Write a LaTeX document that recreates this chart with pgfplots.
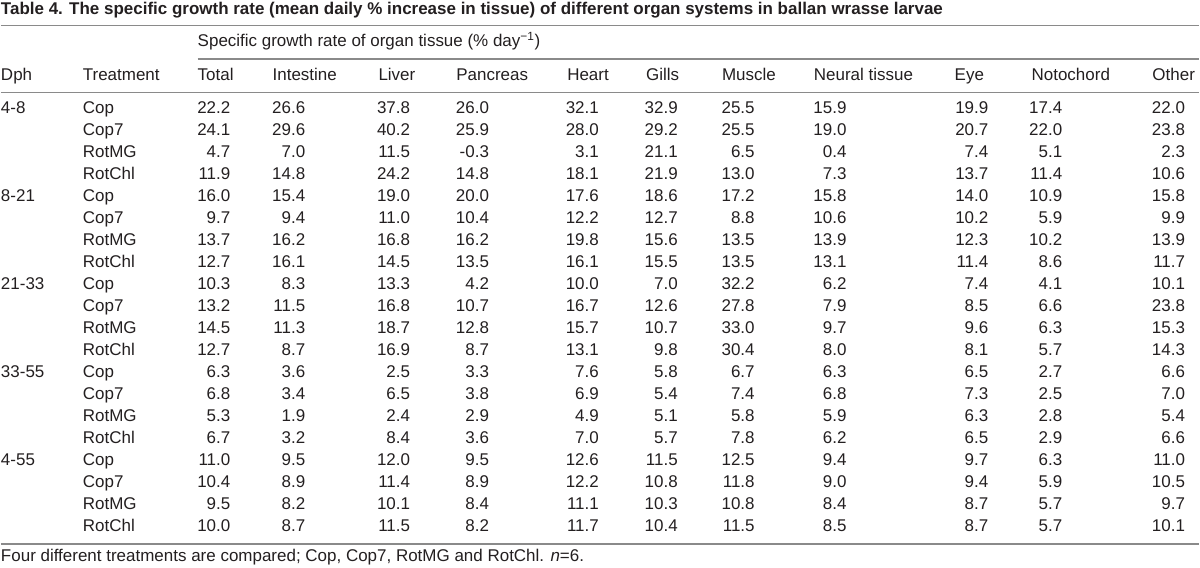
\documentclass[border=0pt]{standalone}
\usepackage{pgfplots}
\usepackage{pgfplotstable}
\pgfplotsset{compat=1.18}
\usepackage{fontspec}
\setmainfont{Liberation Sans}
\definecolor{txt}{HTML}{231F20}
\definecolor{rule}{HTML}{8A8A8A}
\newcommand{\fs}{\fontsize{17}{20}\selectfont}

\pgfplotstableread{
row trt Total Intestine Liver Pancreas Heart Gills Muscle Neural Eye Notochord Other
0 Cop 22.2 26.6 37.8 26.0 32.1 32.9 25.5 15.9 19.9 17.4 22.0
1 Cop7 24.1 29.6 40.2 25.9 28.0 29.2 25.5 19.0 20.7 22.0 23.8
2 RotMG 4.7 7.0 11.5 -0.3 3.1 21.1 6.5 0.4 7.4 5.1 2.3
3 RotChl 11.9 14.8 24.2 14.8 18.1 21.9 13.0 7.3 13.7 11.4 10.6
4 Cop 16.0 15.4 19.0 20.0 17.6 18.6 17.2 15.8 14.0 10.9 15.8
5 Cop7 9.7 9.4 11.0 10.4 12.2 12.7 8.8 10.6 10.2 5.9 9.9
6 RotMG 13.7 16.2 16.8 16.2 19.8 15.6 13.5 13.9 12.3 10.2 13.9
7 RotChl 12.7 16.1 14.5 13.5 16.1 15.5 13.5 13.1 11.4 8.6 11.7
8 Cop 10.3 8.3 13.3 4.2 10.0 7.0 32.2 6.2 7.4 4.1 10.1
9 Cop7 13.2 11.5 16.8 10.7 16.7 12.6 27.8 7.9 8.5 6.6 23.8
10 RotMG 14.5 11.3 18.7 12.8 15.7 10.7 33.0 9.7 9.6 6.3 15.3
11 RotChl 12.7 8.7 16.9 8.7 13.1 9.8 30.4 8.0 8.1 5.7 14.3
12 Cop 6.3 3.6 2.5 3.3 7.6 5.8 6.7 6.3 6.5 2.7 6.6
13 Cop7 6.8 3.4 6.5 3.8 6.9 5.4 7.4 6.8 7.3 2.5 7.0
14 RotMG 5.3 1.9 2.4 2.9 4.9 5.1 5.8 5.9 6.3 2.8 5.4
15 RotChl 6.7 3.2 8.4 3.6 7.0 5.7 7.8 6.2 6.5 2.9 6.6
16 Cop 11.0 9.5 12.0 9.5 12.6 11.5 12.5 9.4 9.7 6.3 11.0
17 Cop7 10.4 8.9 11.4 8.9 12.2 10.8 11.8 9.0 9.4 5.9 10.5
18 RotMG 9.5 8.2 10.1 8.4 11.1 10.3 10.8 8.4 8.7 5.7 9.7
19 RotChl 10.0 8.7 11.5 8.2 11.7 10.4 11.5 8.5 8.7 5.7 10.1
}\sgr

\pgfplotstableread{
row dph
0 4-8
4 8-21
8 21-33
12 33-55
16 4-55
}\dphtab

\pgfplotsset{
  cellR/.style={draw=none, mark=none, nodes near coords, point meta=explicit symbolic,
    nodes near coords style={anchor=base east, inner sep=0pt, font=\fs, text=txt}},
  cellL/.style={draw=none, mark=none, nodes near coords, point meta=explicit symbolic,
    nodes near coords style={anchor=base west, inner sep=0pt, font=\fs, text=txt}},
}
\tikzset{hd/.style={anchor=base west, inner sep=0pt, text=txt, font=\fs}}

\begin{document}
\begin{tikzpicture}
\begin{axis}[
  width=1200pt, height=568pt, scale only axis,
  xmin=0, xmax=1200, ymin=0, ymax=568, y dir=reverse,
  hide axis, clip=false,
]
\path (axis cs:0,0) -- (axis cs:1200,568);
% rules
\draw[rule, line width=1.6pt] (axis cs:0,25.5) -- (axis cs:1200,25.5);
\draw[rule, line width=1.2pt] (axis cs:197,59) -- (axis cs:1200,59);
\draw[rule, line width=1.2pt] (axis cs:0,92.5) -- (axis cs:1200,92.5);
\draw[rule, line width=1.6pt] (axis cs:0,544.5) -- (axis cs:1200,544.5);
% title and headers
\node[hd, font=\fs\bfseries] at (axis cs:0,14.5)
  {Table 4. The specific growth rate (mean daily \% increase in tissue) of different organ systems in ballan wrasse larvae};
\node[hd] at (axis cs:197,47) {Specific growth rate of organ tissue (\% day\textsuperscript{−1})};
\node[hd] at (axis cs:0,80.5) {Dph};
\node[hd] at (axis cs:82,80.5) {Treatment};
\node[hd] at (axis cs:197,80.5) {Total};
\node[hd] at (axis cs:272,80.5) {Intestine};
\node[hd] at (axis cs:378,80.5) {Liver};
\node[hd] at (axis cs:456,80.5) {Pancreas};
\node[hd] at (axis cs:567,80.5) {Heart};
\node[hd] at (axis cs:646,80.5) {Gills};
\node[hd] at (axis cs:722,80.5) {Muscle};
\node[hd] at (axis cs:814,80.5) {Neural tissue};
\node[hd] at (axis cs:955,80.5) {Eye};
\node[hd] at (axis cs:1032,80.5) {Notochord};
\node[hd] at (axis cs:1153,80.5) {Other};
\node[hd] at (axis cs:0,562.5) {Four different treatments are compared; Cop, Cop7, RotMG and RotChl. \textit{n}=6.};
% body
\addplot[cellL] table[x expr=0, y expr=114+22*\thisrow{row}, meta=dph] {\dphtab};
\addplot[cellL] table[x expr=82, y expr=114+22*\thisrow{row}, meta=trt] {\sgr};
\addplot[cellR] table[x expr=230, y expr=114+22*\thisrow{row}, meta=Total] {\sgr};
\addplot[cellR] table[x expr=305, y expr=114+22*\thisrow{row}, meta=Intestine] {\sgr};
\addplot[cellR] table[x expr=410, y expr=114+22*\thisrow{row}, meta=Liver] {\sgr};
\addplot[cellR] table[x expr=489, y expr=114+22*\thisrow{row}, meta=Pancreas] {\sgr};
\addplot[cellR] table[x expr=599, y expr=114+22*\thisrow{row}, meta=Heart] {\sgr};
\addplot[cellR] table[x expr=678, y expr=114+22*\thisrow{row}, meta=Gills] {\sgr};
\addplot[cellR] table[x expr=755, y expr=114+22*\thisrow{row}, meta=Muscle] {\sgr};
\addplot[cellR] table[x expr=847, y expr=114+22*\thisrow{row}, meta=Neural] {\sgr};
\addplot[cellR] table[x expr=989, y expr=114+22*\thisrow{row}, meta=Eye] {\sgr};
\addplot[cellR] table[x expr=1063, y expr=114+22*\thisrow{row}, meta=Notochord] {\sgr};
\addplot[cellR] table[x expr=1186, y expr=114+22*\thisrow{row}, meta=Other] {\sgr};
\end{axis}
\end{tikzpicture}
\end{document}
